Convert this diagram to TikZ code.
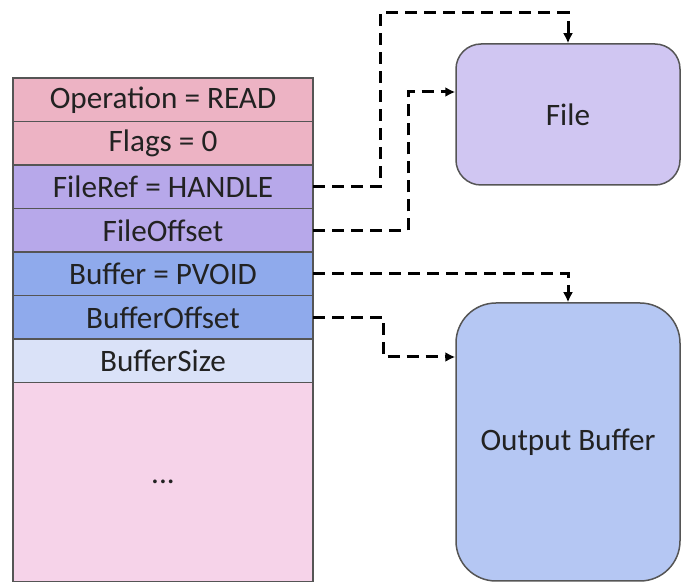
\documentclass[tikz,border=0pt]{standalone}
\usepackage{fontspec}
\setmainfont{Carlito}
\usepackage{tikz}
\usetikzlibrary{arrows.meta}
\usetikzlibrary{positioning}

\definecolor{opcol}{RGB}{237,179,196}
\definecolor{refcol}{RGB}{183,168,234}
\definecolor{bufcol}{RGB}{143,170,236}
\definecolor{sizecol}{RGB}{218,226,248}
\definecolor{restcol}{RGB}{246,211,233}
\definecolor{filecol}{RGB}{208,198,242}
\definecolor{outcol}{RGB}{181,199,243}
\definecolor{edgecol}{RGB}{85,85,85}
\definecolor{txtcol}{RGB}{34,34,34}

\tikzset{
  field/.style={draw=edgecol,line width=0.75pt,minimum width=150pt,minimum height=21.75pt,inner sep=0pt,outer sep=0pt,text=txtcol},
  target/.style={draw=edgecol,line width=0.75pt,minimum width=112pt,inner sep=0pt,text=txtcol},
  link/.style={line width=1.5pt,dash pattern=on 6pt off 3.5pt,-{Latex[length=5pt,width=5pt]}}
}

\begin{document}
\begin{tikzpicture}[x=0.5pt,y=-0.5pt,font=\fontsize{15.6}{18}\selectfont]
\useasboundingbox (0,0) rectangle (682,583);

\node[field,fill=opcol] (op) at (163,100) {Operation = READ};
\node[field,fill=opcol,below=0pt of op] (flags) {Flags = 0};
\node[field,fill=refcol,below=0pt of flags] (fileref) {FileRef = HANDLE};
\node[field,fill=refcol,below=0pt of fileref] (fileoffset) {FileOffset};
\node[field,fill=bufcol,below=0pt of fileoffset] (buffer) {Buffer = PVOID};
\node[field,fill=bufcol,below=0pt of buffer] (bufoffset) {BufferOffset};
\node[field,fill=sizecol,below=0pt of bufoffset] (bufsize) {BufferSize};
\node[field,fill=restcol,minimum height=99.5pt,below=0pt of bufsize] (rest) {...};

\node[target,fill=filecol,minimum height=70.5pt,rounded corners=12.5pt] (file) at (568,114.5) {File};
\node[target,fill=outcol,minimum height=139pt,rounded corners=20pt] (outbuf) at (568,442) {Output Buffer};

\draw[link] (fileref.east) -- ++(67,0) -- ++(0,-174) -| (file.north);
\draw[link] (fileoffset.east) -- ++(95,0) |- ([yshift=11.25pt]file.west);
\draw[link] (buffer.east) -| (outbuf.north);
\draw[link] (bufoffset.east) -- ++(70,0) |- ([yshift=42.5pt]outbuf.west);
\end{tikzpicture}
\end{document}
